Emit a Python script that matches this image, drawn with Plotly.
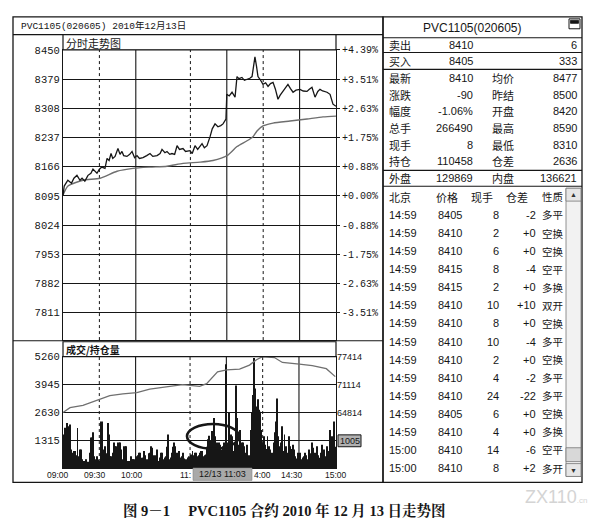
import plotly.graph_objects as go

W, H = 601, 524
def px(x): return x / W
def py(y): return 1 - y / H

# ---------------- data ----------------
# minutes from 09:00 on a trading-time axis (09:00-10:15, 10:30-11:30, 13:30-15:00 -> 0..225)
price_min = [0, 1, 4, 7, 9, 11.5, 14, 15.7, 18, 20.6,
             23, 24.7, 28, 30, 32, 34.6, 36.3, 38, 39.6, 41,
             42.9, 45.3, 47, 48.6, 50, 52.7, 55, 56.9, 59, 61,
             63, 65.9, 69, 71.7, 74, 77.5, 80, 81.6, 84, 85.7,
             88, 89.8, 92, 94, 96, 98.9, 101, 104.7, 106.5, 108.8,
             111, 114.6, 116.5, 118.7, 121.2, 123, 125.3, 127.7, 130, 131.9,
             134.3, 135, 137, 139.3, 141.8, 143.4, 145, 147.5, 149.5, 151.7,
             154, 155.8, 157.2, 158.2, 159.5, 160.7, 162.5, 164.8, 167, 169,
             171, 173.1, 175, 177.2, 179, 181.3, 183.5, 185.4, 187.5, 189.6,
             192, 195.3, 198, 201.1, 203, 205.2, 207.7, 210, 211.8, 214,
             217.6, 220.1, 222.5, 225]
price_val = [8095, 8119, 8133, 8126, 8138, 8145, 8133, 8138, 8131, 8145,
             8150, 8160, 8150, 8160, 8165, 8162, 8186, 8181, 8198, 8186,
             8191, 8210, 8196, 8203, 8193, 8191, 8196, 8203, 8188, 8193,
             8186, 8188, 8193, 8198, 8191, 8193, 8198, 8208, 8200, 8203,
             8196, 8198, 8196, 8217, 8208, 8210, 8203, 8205, 8198, 8217,
             8208, 8222, 8212, 8217, 8239, 8258, 8270, 8263, 8266, 8270,
             8282, 8342, 8338, 8347, 8335, 8385, 8380, 8383, 8376, 8378,
             8381, 8385, 8410, 8433, 8410, 8385, 8378, 8366, 8370, 8361,
             8368, 8371, 8355, 8330, 8340, 8349, 8357, 8366, 8356, 8347,
             8352, 8354, 8350, 8349, 8354, 8359, 8335, 8349, 8354, 8350,
             8347, 8342, 8318, 8313]

avg_min = [0, 4.1, 16.5, 30.5, 44.5, 57.7, 71.7, 85.7, 98.9, 112.9,
           123.6, 135.2, 143.4, 151.7, 156.6, 159.9, 164.8, 173.1, 187.1, 201.1,
           214.3, 225]
avg_val = [8097, 8119, 8133, 8138, 8155, 8162, 8165, 8167, 8174, 8177,
           8181, 8193, 8215, 8229, 8239, 8253, 8265, 8272, 8277, 8282,
           8287, 8289]

oi_min = [0, 5.8, 16.5, 28, 38.7, 49.5, 61, 71.7, 85.7, 98.9,
          112.9, 118.7, 127.7, 135.2, 145.9, 154.1, 159.9, 164.8, 174.7, 181.3,
          195.3, 206, 217.6, 222.5, 225]
oi_val = [64814, 65900, 66400, 67500, 68600, 69000, 69300, 70100, 70700, 71100,
          70700, 71300, 74000, 74400, 74600, 75500, 76700, 77400, 77200, 76100,
          75700, 75400, 74700, 73600, 72900]

volume = [1580, 1300, 1900, 2125, 1970, 1030, 2050, 875, 720, 800,
          800, 600, 1890, 560, 875, 875, 410, 330, 330, 410,
          250, 300, 720, 1440, 1440, 1690, 560, 410, 560, 400,
          330, 2200, 2200, 720, 875, 1030, 700, 2125, 1580, 560,
          560, 720, 1200, 1030, 1030, 1200, 1200, 1200, 875, 410,
          1030, 1030, 1030, 250, 330, 330, 560, 410, 410, 410,
          560, 450, 600, 720, 720, 490, 490, 800, 600, 410,
          410, 700, 720, 1030, 955, 600, 410, 600, 875, 330,
          500, 720, 720, 410, 500, 560, 1000, 1580, 410, 500,
          720, 1000, 1200, 1030, 720, 600, 800, 500, 560, 720,
          450, 330, 410, 500, 560, 450, 640, 800, 600, 720,
          720, 560, 600, 720, 800, 800, 560, 600, 640, 1000,
          1360, 1520, 1300, 1750, 1030, 2360, 1500, 1200, 1030, 1200,
          1100, 875, 1030, 1200, 900, 4900, 1200, 2600, 1000, 1580,
          1500, 800, 1200, 3900, 2360, 1100, 1800, 900, 1200, 1200,
          1030, 720, 1100, 560, 600, 1800, 2600, 3450, 5200, 3750,
          2900, 3250, 2750, 2660, 1800, 1200, 1500, 1100, 900, 1500,
          1030, 875, 600, 720, 1200, 1690, 2200, 3280, 1500, 1030,
          1200, 1970, 800, 1580, 1030, 720, 600, 1500, 1030, 900,
          1100, 875, 560, 450, 720, 560, 720, 410, 500, 560,
          720, 600, 410, 875, 560, 700, 1200, 955, 720, 600,
          1030, 600, 490, 720, 1100, 600, 875, 560, 1030, 800,
          720, 1800, 1500, 1200, 2200, 1005]
vol_min = list(range(len(volume)))

price_ticks = [8450, 8379, 8308, 8237, 8166, 8095, 8024, 7953, 7882, 7811]
pct_labels = ["+4.39%", "+3.51%", "+2.63%", "+1.75%", "+0.88%",
              "+0.00%", "-0.88%", "-1.75%", "-2.63%", "-3.51%"]
vol_ticks = [5260, 3945, 2630, 1315]
oi_ticks = [77414, 71114, 64814]

grid_dotted_min = [30, 105, 165]     # 09:30, 11:00, 14:00
grid_solid_min = [60, 135, 195]      # 10:00, 11:30|13:30, 14:30
time_labels = ["09:00", "09:30", "10:00", "11:", "4:00", "14:30", "15:00"]
time_label_px = [58, 95, 132, 185, 262, 292, 336]

quote_rows = [("卖出", "8410", "", "6"), ("买入", "8405", "", "333"),
              ("最新", "8410", "均价", "8477"), ("涨跌", "-90", "昨结", "8500"),
              ("幅度", "-1.06%", "开盘", "8420"), ("总手", "266490", "最高", "8590"),
              ("现手", "8", "最低", "8310"), ("持仓", "110458", "仓差", "2636"),
              ("外盘", "129869", "内盘", "136621")]
quote_row_y = [40, 57, 74, 90.5, 107, 124, 141, 158, 175]

tick_time = ["14:59"] * 13 + ["15:00"] * 2
tick_price = [8405, 8410, 8410, 8415, 8415, 8410, 8410, 8410, 8410, 8410, 8410, 8405, 8410, 8410, 8410]
tick_vol = [8, 2, 6, 8, 2, 10, 8, 10, 2, 4, 24, 6, 4, 14, 8]
tick_oi = ["-2", "+0", "+0", "-4", "+0", "+10", "+0", "-4", "+0", "-2", "-22", "+0", "+0", "-6", "+2"]
tick_type = ["多平", "空换", "空换", "空平", "多换", "双开", "空换", "多平", "空换", "多平",
             "多平", "空换", "多换", "空平", "多开"]

# ---------------- figure ----------------
INK = "#161616"
MONO = "Liberation Mono, DejaVu Sans Mono, monospace"
SANS = "Liberation Sans, Arial, Noto Sans CJK SC, sans-serif"
CJK = "Noto Sans CJK SC, sans-serif"

fig = go.Figure()
fig.add_trace(go.Bar(x=vol_min, y=volume, xaxis="x2", yaxis="y3",
                     marker=dict(color=INK, line=dict(width=0)), width=0.75, hoverinfo="skip"))
fig.add_trace(go.Scatter(x=oi_min, y=oi_val, xaxis="x2", yaxis="y4", mode="lines",
                         line=dict(color="#707070", width=1.3)))
fig.add_trace(go.Scatter(x=avg_min, y=avg_val, xaxis="x", yaxis="y", mode="lines",
                         line=dict(color="#6e6e6e", width=1.4, shape="spline", smoothing=0.6)))
fig.add_trace(go.Scatter(x=price_min, y=price_val, xaxis="x", yaxis="y", mode="lines",
                         line=dict(color=INK, width=1.3)))
# same price series on the percentage axis (invisible) so that the right axis is drawn
fig.add_trace(go.Scatter(x=price_min, y=price_val, xaxis="x", yaxis="y2", mode="lines",
                         line=dict(color="rgba(0,0,0,0)", width=0), hoverinfo="skip"))

xdom = [px(63), px(336)]
pdom = [py(338.3), py(45.3)]
vdom = [py(467.5), py(355)]

axis_common = dict(showline=True, mirror=True, linecolor=INK, linewidth=1.2, zeroline=False)

fig.update_layout(
    width=W, height=H, margin=dict(l=0, r=0, t=0, b=0),
    paper_bgcolor="white", plot_bgcolor="white", showlegend=False,
    xaxis=dict(domain=xdom, range=[0, 225], anchor="y", showgrid=False,
               showticklabels=False, ticks="", **axis_common),
    yaxis=dict(domain=pdom, range=[7744.5, 8450], anchor="x", tickvals=price_ticks,
               ticktext=[str(v) for v in price_ticks], showgrid=True, gridcolor=INK,
               gridwidth=1, ticks="", tickfont=dict(family=MONO, size=10.5, color=INK),
               **axis_common),
    yaxis2=dict(overlaying="y", side="right", anchor="x", range=[7744.5, 8450],
                tickvals=price_ticks, ticktext=pct_labels, showgrid=False, ticks="outside",
                ticklen=3, tickcolor=INK, showline=False, zeroline=False,
                tickfont=dict(family=MONO, size=10, color=INK)),
    xaxis2=dict(domain=xdom, range=[0, 225.6], anchor="y3", showgrid=False,
                showticklabels=False, ticks="", **axis_common),
    yaxis3=dict(domain=vdom, range=[0, 5260], anchor="x2", tickvals=vol_ticks,
                ticktext=[str(v) for v in vol_ticks], showgrid=True, gridcolor=INK,
                gridwidth=1, ticks="", tickfont=dict(family=MONO, size=10.5, color=INK),
                **axis_common),
    yaxis4=dict(overlaying="y3", side="right", anchor="x2", range=[52281, 77414],
                tickvals=oi_ticks, ticktext=[str(v) for v in oi_ticks], showgrid=False,
                ticks="", showline=False, zeroline=False,
                tickfont=dict(family=SANS, size=9, color=INK)),
)

shapes = []
def line(x0, y0, x1, y1, w=1.2, color=INK, dash="solid"):
    shapes.append(dict(type="line", xref="paper", yref="paper", x0=px(x0), y0=py(y0),
                       x1=px(x1), y1=py(y1), line=dict(color=color, width=w, dash=dash)))
def rect(x0, y0, x1, y1, w=1.2, color=INK, fill="rgba(0,0,0,0)"):
    shapes.append(dict(type="rect", xref="paper", yref="paper", x0=px(x0), y0=py(y0),
                       x1=px(x1), y1=py(y1), line=dict(color=color, width=w), fillcolor=fill))

# frames
rect(13, 12, 383, 482, 1.3)
line(13, 30, 383, 30)
line(13, 339, 383, 339)
rect(63, 30, 336, 45.3, 1.2, fill="white")
rect(63, 340, 336, 355, 1.2, fill="white")
# vertical grid lines (trading time axis)
for m in grid_dotted_min + grid_solid_min:
    dash = "dot" if m in grid_dotted_min else "solid"
    for xr, d in (("x", pdom), ("x2", vdom)):
        shapes.append(dict(type="line", xref=xr, yref="paper", x0=m, x1=m, y0=d[0], y1=d[1],
                           line=dict(color=INK, width=1.1 if dash == "solid" else 1, dash=dash),
                           layer="below"))
# right table frame
rect(383, 12, 582, 482, 1.3)
for yy in (33, 48, 65, 167, 183):
    line(383, yy, 582, yy, 1.1)
# window icon
rect(569, 14, 580, 24, 1, fill="white")
rect(570.5, 15.5, 578.5, 18.5, 0.8, fill=INK)
# scrollbar
rect(566, 185, 581, 476, 0.8, color="#777", fill="#f2f2f2")
rect(566, 185, 581, 198, 0.8, color="#777", fill="#e6e6e6")
rect(566, 463, 581, 476, 0.8, color="#777", fill="#e6e6e6")
rect(566, 447, 581, 461, 0.8, color="#777", fill="#d8d8d8")
# highlighted ellipse
shapes.append(dict(type="circle", xref="paper", yref="paper", x0=px(187), x1=px(239),
                   y0=py(423), y1=py(448), line=dict(color=INK, width=2.6)))
# 1005 value box
rect(338, 434, 361, 446, 1, fill="#b0b0b0")
# cursor time box
rect(193, 467.5, 252, 480, 0.6, color="#888", fill="#a9a9a9")
fig.update_layout(shapes=shapes)

ann = []
def text(x, y, s, size=11, family=SANS, anchor="left", color=INK, **kw):
    ann.append(dict(x=px(x), y=py(y), xref="paper", yref="paper", text=s, showarrow=False,
                    xanchor=anchor, yanchor="middle", borderpad=0,
                    font=dict(family=family, size=size, color=color), **kw))

text(20, 21.5, "PVC1105(020605) 2010年12月13日", 9.5, MONO + ", Noto Sans CJK SC")
text(65, 38, "分时走势图", 11, CJK)
text(65, 347.5, "<b>成交/持仓量</b>", 10, CJK)
text(349.5, 440, "1005", 9, SANS, anchor="center")
text(222.5, 474, "12/13 11:03", 9, SANS, anchor="center")
for s, xp in zip(time_labels, time_label_px):
    text(xp, 474.5, s, 8.5, SANS, anchor="center")

# quote panel
text(472, 23, "PVC1105(020605)", 12, SANS, anchor="center")
for (l1, v1, l2, v2), yy in zip(quote_rows, quote_row_y):
    text(388, yy, l1, 11, CJK)
    text(474, yy, v1, 11, SANS, anchor="right")
    if l2:
        text(491, yy, l2, 11, CJK)
    text(578, yy, v2, 11, SANS, anchor="right")

# tick list
hy = 193.5
text(388, hy, "北京", 11, CJK)
text(459, hy, "价格", 11, CJK, anchor="right")
text(494, hy, "现手", 11, CJK, anchor="right")
text(529, hy, "仓差", 11, CJK, anchor="right")
text(541, hy, "性质", 10.5, CJK)
for i in range(len(tick_time)):
    yy = 212 + 18.25 * i
    text(388, yy, tick_time[i], 11, SANS)
    text(463, yy, str(tick_price[i]), 11, SANS, anchor="right")
    text(500, yy, str(tick_vol[i]), 11, SANS, anchor="right")
    text(537, yy, tick_oi[i], 11, SANS, anchor="right")
    text(541, yy, tick_type[i], 10.5, CJK)
text(573.5, 191.5, "▲", 7, SANS, anchor="center", color="#333")
text(573.5, 469.5, "▼", 7, SANS, anchor="center", color="#333")

# caption and watermark
text(284, 510, "<b>图 9－1　 PVC1105 合约 2010 年 12 月 13 日走势图</b>", 14.5,
     "Liberation Serif, Noto Serif CJK SC, Noto Sans CJK SC, serif", anchor="center")
text(556, 497, "ZX110<span style='font-size:8px'>.cn</span>", 18, SANS, anchor="center", color="#d4d4d4")

fig.update_layout(annotations=ann)
fig.write_html("out.html", config={"displayModeBar": False},
               post_script="document.body.style.margin='0';document.body.style.overflow='hidden';")
